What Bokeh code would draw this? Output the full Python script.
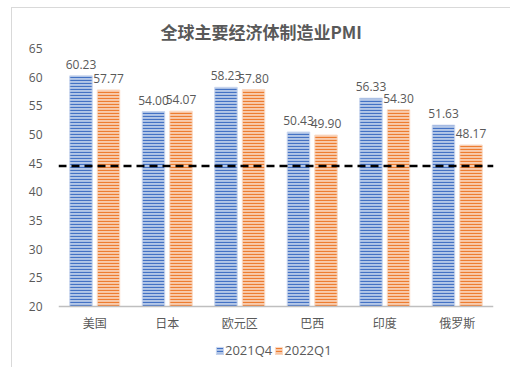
from bokeh.plotting import figure
from bokeh.models import ColumnDataSource, Span, Legend, LegendItem, FactorRange
from bokeh.transform import dodge
from bokeh.core.properties import value
from bokeh.embed import file_html
from bokeh.resources import INLINE

# PMI readings by economy
categories = ["美国", "日本", "欧元区", "巴西", "印度", "俄罗斯"]
pmi_2021q4 = [60.23, 54.00, 58.23, 50.43, 56.33, 51.63]
pmi_2022q1 = [57.77, 54.07, 57.80, 49.90, 54.30, 48.17]
series_names = ["2021Q4", "2022Q1"]
reference_level = 44.5
y_ticks = [20, 25, 30, 35, 40, 45, 50, 55, 60, 65]
y_base = 20

src = ColumnDataSource(dict(
    cat=categories,
    q4=pmi_2021q4,
    q1=pmi_2022q1,
    q4_txt=[f"{v:.2f}" for v in pmi_2021q4],
    q1_txt=[f"{v:.2f}" for v in pmi_2022q1],
))

GRAY = "#595959"
CJK = "Noto Sans CJK SC"

# the plotting frame runs to the bottom edge so the category labels and the
# legend can sit below the baseline inside it
p = figure(
    width=510, height=367,
    x_range=FactorRange(*categories, range_padding=0),
    y_range=(9.36, 65),
    output_backend="svg", toolbar_location=None,
    min_border_left=58, min_border_right=17,
    min_border_top=48, min_border_bottom=0,
)
# light chart-area frame (top and left edges) painted behind a transparent border
p.border_fill_alpha = 0
p.styles = {
    "background": "linear-gradient(#D9D9D9, #D9D9D9) 11px 7px / 1px 100% no-repeat, "
                  "linear-gradient(#D9D9D9, #D9D9D9) 11px 7px / 100% 1px no-repeat, white"
}
p.outline_line_color = None
p.background_fill_color = "white"
p.xgrid.grid_line_color = None
p.ygrid.grid_line_color = None
p.xaxis.visible = False

# title
p.title.text = "全球主要经济体制造业PMI"
p.title.text_font = CJK
p.title.text_font_style = "bold"
p.title.text_font_size = "17px"
p.title.text_color = GRAY
p.title.align = "left"
p.title.offset = 102

# value axis
p.yaxis.ticker = y_ticks
p.yaxis.axis_line_color = None
p.yaxis.major_tick_line_color = None
p.yaxis.minor_tick_line_color = None
p.yaxis.major_label_standoff = 10
p.yaxis.major_label_text_font = "Open Sans"
p.yaxis.major_label_text_font_size = "12px"
p.yaxis.major_label_text_color = GRAY

# striped bars
bar_w = 0.31
r1 = p.vbar(x=dodge("cat", -0.19, range=p.x_range), top="q4", bottom=y_base, width=bar_w, source=src,
            fill_color="#B4C7E7", line_color="#C9D6EE", line_width=1,
            hatch_pattern="horizontal_line", hatch_color="#4472C4", hatch_scale=3, hatch_weight=1.2)
r2 = p.vbar(x=dodge("cat", 0.19, range=p.x_range), top="q1", bottom=y_base, width=bar_w, source=src,
            fill_color="#F8CBAD", line_color="#FADBC6", line_width=1,
            hatch_pattern="horizontal_line", hatch_color="#ED7D31", hatch_scale=3, hatch_weight=1.2)

# baseline and category labels
p.add_layout(Span(location=y_base, dimension="width", line_color="#BFBFBF", line_width=1.5))
p.text(x="cat", y=y_base, text="cat", source=src, text_align="center", text_baseline="top",
       y_offset=8, text_font=value(CJK), text_font_size="12px", text_color=GRAY)

# value labels
for col, txt, off in (("q4", "q4_txt", -0.19), ("q1", "q1_txt", 0.19)):
    p.text(x=dodge("cat", off, range=p.x_range), y=col, text=txt, source=src,
           text_align="center", text_baseline="bottom", y_offset=-7,
           text_font=value("Open Sans"), text_font_size="12px", text_color=GRAY)

# reference level
p.add_layout(Span(location=reference_level, dimension="width", line_color="black",
                  line_width=2.5, line_dash="8 5"))

# legend under the categories
legend = Legend(items=[LegendItem(label=series_names[0], renderers=[r1]),
                       LegendItem(label=series_names[1], renderers=[r2])],
                orientation="horizontal", location=(157, 8),
                glyph_width=9, glyph_height=9, label_standoff=1, spacing=2,
                padding=0, margin=0, border_line_color=None, background_fill_alpha=0,
                label_text_font="Open Sans", label_text_font_size="13px",
                label_text_color=GRAY)
p.add_layout(legend, "center")

open("out.html", "w").write(file_html(p, INLINE))
